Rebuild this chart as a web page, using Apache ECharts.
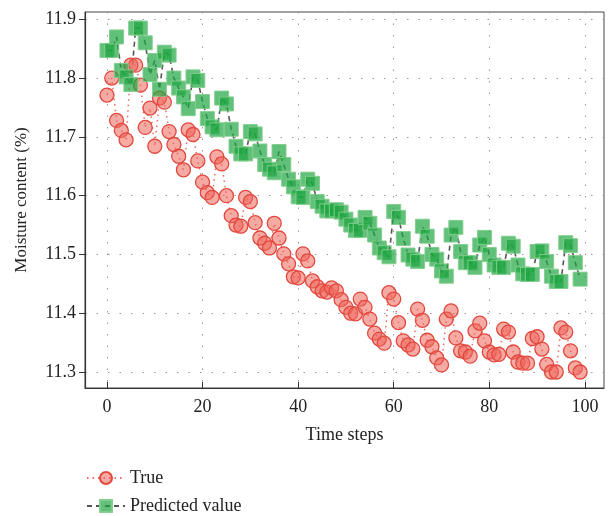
<!DOCTYPE html>
<html>
<head>
<meta charset="utf-8">
<script src="https://cdn.jsdelivr.net/npm/echarts@6/dist/echarts.min.js"></script>
<style>
  html, body { margin: 0; padding: 0; background: #fff; }
  #chart { width: 608px; height: 516px; }
</style>
</head>
<body>
<div id="chart"></div>
<script>
// measured moisture content, one value per time step (0..99)
var trueVals = [
  11.771, 11.800, 11.728, 11.711, 11.695, 11.822, 11.822, 11.788, 11.716, 11.749,
  11.684, 11.766, 11.759, 11.709, 11.687, 11.667, 11.644, 11.712, 11.704, 11.659,
  11.623, 11.605, 11.597, 11.666, 11.654, 11.600, 11.566, 11.550, 11.548, 11.597,
  11.590, 11.554, 11.528, 11.519, 11.511, 11.553, 11.528, 11.501, 11.484, 11.462,
  11.460, 11.501, 11.489, 11.455, 11.445, 11.438, 11.436, 11.443, 11.438, 11.423,
  11.410, 11.400, 11.399, 11.424, 11.410, 11.390, 11.366, 11.356, 11.349, 11.435,
  11.424, 11.384, 11.353, 11.346, 11.339, 11.407, 11.388, 11.354, 11.343, 11.324,
  11.312, 11.390, 11.404, 11.358, 11.336, 11.334, 11.327, 11.370, 11.383, 11.353,
  11.334, 11.329, 11.330, 11.373, 11.368, 11.334, 11.317, 11.315, 11.315, 11.357,
  11.360, 11.339, 11.313, 11.300, 11.300, 11.375, 11.368, 11.336, 11.307, 11.300
];
// model output
var predVals = [
  11.847, 11.847, 11.870, 11.813, 11.802, 11.789, 11.885, 11.885, 11.860, 11.806,
  11.830, 11.781, 11.844, 11.839, 11.800, 11.783, 11.768, 11.748, 11.802, 11.796,
  11.760, 11.731, 11.717, 11.712, 11.766, 11.756, 11.713, 11.684, 11.671, 11.671,
  11.709, 11.705, 11.676, 11.653, 11.645, 11.639, 11.675, 11.653, 11.628, 11.615,
  11.598, 11.597, 11.628, 11.621, 11.590, 11.582, 11.574, 11.574, 11.576, 11.572,
  11.560, 11.550, 11.541, 11.541, 11.563, 11.553, 11.533, 11.511, 11.503, 11.496,
  11.573, 11.563, 11.527, 11.499, 11.492, 11.488, 11.548, 11.531, 11.500, 11.492,
  11.472, 11.463, 11.533, 11.546, 11.505, 11.486, 11.486, 11.478, 11.516, 11.529,
  11.500, 11.482, 11.478, 11.478, 11.519, 11.514, 11.482, 11.467, 11.466, 11.466,
  11.505, 11.506, 11.488, 11.463, 11.454, 11.454, 11.520, 11.515, 11.486, 11.458
];
var xTicks = [0, 20, 40, 60, 80, 100];
var yTicks = [11.3, 11.4, 11.5, 11.6, 11.7, 11.8, 11.9];

var font = 'Liberation Serif';
var gridLine = { show: true, lineStyle: { color: '#999', width: 1, type: [1.5, 10] } };
var legendText = { fontFamily: font, fontSize: 18, color: '#222' };

var chart = echarts.init(document.getElementById('chart'));
chart.setOption({
  animation: false,
  grid: { left: 85, right: 4, top: 12, bottom: 128, show: true, borderColor: '#444', borderWidth: 1 },
  // one legend per row, stacked like the original
  legend: [
    { left: 81, top: 464, itemWidth: 38, itemHeight: 15, textStyle: legendText, data: ['True'] },
    { left: 81, top: 492, itemWidth: 38, itemHeight: 15, textStyle: legendText, data: ['Predicted value'] }
  ],
  xAxis: {
    type: 'value', min: -4.6, max: 104,
    name: 'Time steps', nameLocation: 'middle', nameGap: 38,
    nameTextStyle: { fontFamily: font, fontSize: 18, color: '#222' },
    axisLine: { onZero: false, lineStyle: { color: '#333', width: 1.2 } },
    axisTick: { inside: true, length: 6, customValues: xTicks, lineStyle: { color: '#333' } },
    axisLabel: { customValues: xTicks, fontFamily: font, fontSize: 18, color: '#222', margin: 10 },
    splitLine: gridLine
  },
  yAxis: {
    type: 'value', min: 11.2728, max: 11.9124,
    name: 'Moisture content (%)', nameLocation: 'middle', nameGap: 55,
    nameTextStyle: { fontFamily: font, fontSize: 17, color: '#222' },
    axisLine: { onZero: false, lineStyle: { color: '#333', width: 1.2 } },
    axisTick: { show: true, inside: false, length: 6, customValues: yTicks, lineStyle: { color: '#333' } },
    axisLabel: {
      customValues: yTicks, fontFamily: font, fontSize: 18, color: '#222', margin: 9,
      formatter: function (v) { return v.toFixed(1); }
    },
    splitLine: gridLine
  },
  series: [
    {
      name: 'True', type: 'line',
      data: trueVals.map(function (v, i) { return [i, v]; }),
      symbol: 'circle', symbolSize: 14,
      itemStyle: { color: 'rgba(238,100,90,0.55)', borderColor: '#e2483e', borderWidth: 1.3 },
      lineStyle: { color: '#ef6a5e', width: 1.5, type: [1.5, 4] }
    },
    {
      name: 'Predicted value', type: 'line',
      data: predVals.map(function (v, i) { return [i, v]; }),
      symbol: 'rect', symbolSize: 14,
      itemStyle: { color: 'rgba(30,165,65,0.7)', borderColor: 'rgba(130,205,140,0.95)', borderWidth: 1 },
      lineStyle: { color: '#555', width: 1.6, type: [5, 4] }
    }
  ]
});
</script>
</body>
</html>
